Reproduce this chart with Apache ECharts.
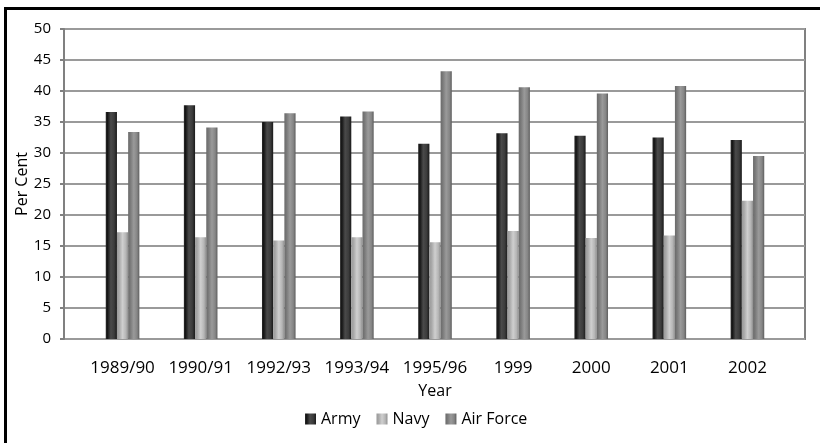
<!DOCTYPE html>
<html>
<head>
<meta charset="utf-8">
<script src="https://cdn.jsdelivr.net/npm/echarts@6/dist/echarts.min.js"></script>
<style>
html,body{margin:0;padding:0;background:#fff;}
#chart{width:820px;height:443px;}
</style>
</head>
<body>
<div id="chart"></div>
<script>
var categories = ['1989/90','1990/91','1992/93','1993/94','1995/96','1999','2000','2001','2002'];
var army     = [36.6, 37.7, 35.0, 35.9, 31.5, 33.2, 32.8, 32.5, 32.1];
var navy     = [17.2, 16.4, 15.9, 16.4, 15.6, 17.4, 16.3, 16.7, 22.3];
var airForce = [33.4, 34.1, 36.4, 36.7, 43.2, 40.6, 39.6, 40.8, 29.5];
var yTicks = [0, 5, 10, 15, 20, 25, 30, 35, 40, 45, 50];

var FONT = 'Open Sans';
function grad(stops){
  return new echarts.graphic.LinearGradient(0,0,1,0, stops.map(function(s){return {offset:s[0], color:s[1]};}));
}
var armyColor = grad([[0,'#2a2a2a'],[0.15,'#151515'],[0.45,'#4a4a4a'],[0.75,'#3c3c3c'],[1,'#1a1a1a']]);
var navyColor = grad([[0,'#9a9a9a'],[0.2,'#a8a8a8'],[0.5,'#cfcfcf'],[0.8,'#b5b5b5'],[1,'#8e8e8e']]);
var afColor   = grad([[0,'#6a6a6a'],[0.2,'#7a7a7a'],[0.5,'#9a9a9a'],[0.8,'#858585'],[1,'#5e5e5e']]);

var chart = echarts.init(document.getElementById('chart'), null, {renderer:'canvas'});
var option = {
  backgroundColor: '#fff',
  animation: false,
  textStyle: {fontFamily: FONT},
  graphic: [{
    type: 'rect', silent: true, z: 100,
    shape: {x: 5.5, y: 8.5, width: 900, height: 600},
    style: {fill: null, stroke: '#000', lineWidth: 3}
  }],
  legend: {
    data: ['Army','Navy','Air Force'],
    left: 305,
    top: 411,
    padding: 0,
    itemWidth: 11,
    itemHeight: 11,
    itemGap: 16,
    icon: 'rect',
    textStyle: {fontFamily: FONT, fontSize: 16, color: '#000'}
  },
  grid: [
    {left: 64, top: 29, width: 741, height: 310, show: true, borderColor: '#808080', borderWidth: 2, containLabel: false},
    {left: 83.5, top: 29, width: 703, height: 310, containLabel: false}
  ],
  xAxis: [
    {gridIndex: 0, type: 'value', min: 0, max: 1, show: false},
    {gridIndex: 1, type: 'category', data: categories,
     axisLine: {show: false}, axisTick: {show: false},
     axisLabel: {fontFamily: FONT, fontSize: 17, color: '#000', margin: 21, interval: 0},
     name: 'Year', nameLocation: 'middle', nameGap: 44, nameMoveOverlap: false,
     nameTextStyle: {fontFamily: FONT, fontSize: 16, color: '#000'}}
  ],
  yAxis: [
    {gridIndex: 0, type: 'value', min: 0, max: 50, interval: 5,
     axisLine: {show: true, lineStyle: {color: '#808080', width: 2}},
     axisTick: {show: true, inside: false, length: 4, lineStyle: {color: '#808080', width: 2}},
     axisLabel: {fontFamily: FONT, fontSize: 15, color: '#000', margin: 13,
       formatter: function(v){ return yTicks.indexOf(v) >= 0 ? String(v) : ''; }},
     splitLine: {show: true, lineStyle: {color: '#9a9a9a', width: 2}},
     name: 'Per Cent', nameLocation: 'middle', nameGap: 34, nameRotate: 90, nameMoveOverlap: false,
     nameTextStyle: {fontFamily: FONT, fontSize: 16, color: '#000'}},
    {gridIndex: 1, type: 'value', min: 0, max: 50, show: false, splitLine: {show: false}}
  ],
  series: [
    {name: 'Army', type: 'bar', xAxisIndex: 1, yAxisIndex: 1, data: army,
     barWidth: 11.2, barGap: '0%', itemStyle: {color: armyColor}},
    {name: 'Navy', type: 'bar', xAxisIndex: 1, yAxisIndex: 1, data: navy,
     barWidth: 11.2, barGap: '0%', itemStyle: {color: navyColor}},
    {name: 'Air Force', type: 'bar', xAxisIndex: 1, yAxisIndex: 1, data: airForce,
     barWidth: 11.2, barGap: '0%', itemStyle: {color: afColor}}
  ]
};
chart.setOption(option);
</script>
</body>
</html>
